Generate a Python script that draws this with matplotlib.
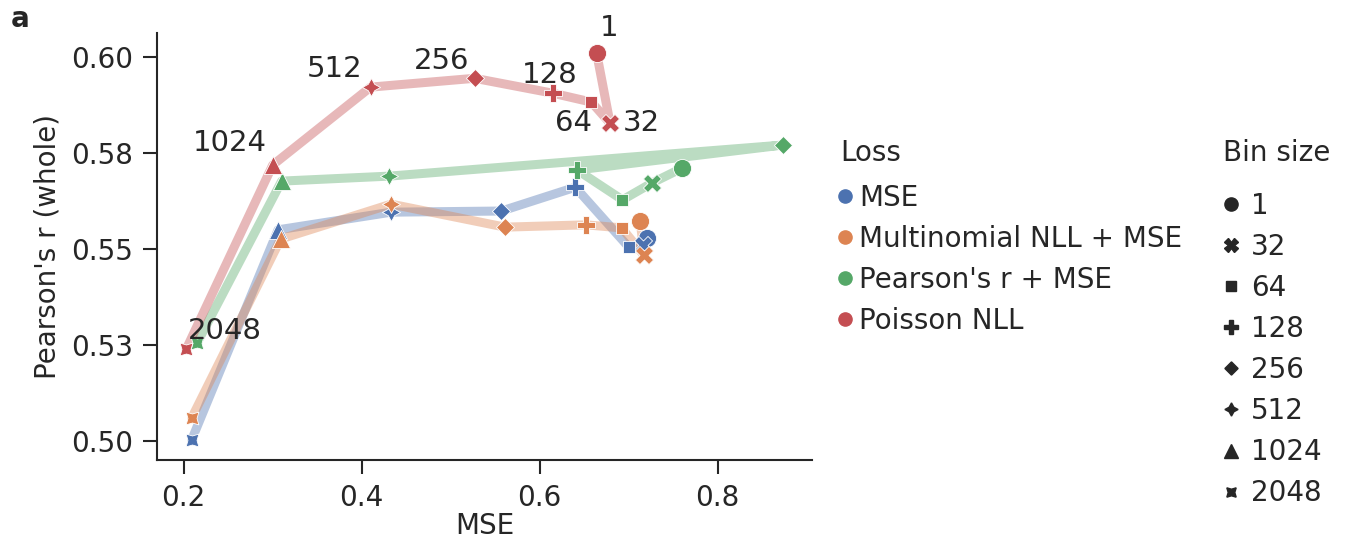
import matplotlib.pyplot as plt
from matplotlib.lines import Line2D

# Data (order of bin sizes: 1, 32, 64, 128, 256, 512, 1024, 2048)
bin_sizes = [1, 32, 64, 128, 256, 512, 1024, 2048]
losses = ["MSE", "Multinomial NLL + MSE", "Pearson's r + MSE", "Poisson NLL"]

mse_mse = [0.720, 0.716, 0.700, 0.640, 0.557, 0.433, 0.306, 0.209]
r_mse = [0.5529, 0.5510, 0.5505, 0.5661, 0.5599, 0.5596, 0.5550, 0.5003]

mse_multi = [0.713, 0.717, 0.692, 0.652, 0.561, 0.433, 0.309, 0.209]
r_multi = [0.5573, 0.5484, 0.5555, 0.5563, 0.5557, 0.5617, 0.5526, 0.5060]

mse_pear = [0.760, 0.726, 0.693, 0.642, 0.873, 0.431, 0.310, 0.215]
r_pear = [0.5711, 0.5672, 0.5628, 0.5706, 0.5771, 0.5690, 0.5677, 0.5255]

mse_pois = [0.664, 0.679, 0.658, 0.615, 0.527, 0.410, 0.300, 0.203]
r_pois = [0.6010, 0.5828, 0.5883, 0.5906, 0.5945, 0.5922, 0.5719, 0.5240]

yticks = [0.500, 0.525, 0.550, 0.575, 0.600]
yticklabels = ["0.50", "0.53", "0.55", "0.58", "0.60"]
xticks = [0.2, 0.4, 0.6, 0.8]

colors = ["#4C72B0", "#DD8452", "#55A868", "#C44E52"]
markers = ["o", "X", (4, 0, 45), "P", (4, 0, 0), (4, 1, 0), "^", (4, 1, 45)]
# label offsets (pixels) and alignment for the Poisson NLL annotations
label_pos = [((3, 11), "left", "bottom"), ((13, 0), "left", "center"),
             ((1, -21), "right", "center"), ((-3, 4), "center", "bottom"),
             ((-5, 3), "right", "bottom"), ((-8, 4), "right", "bottom"),
             ((-6, 8), "right", "bottom"), ((1, 4), "left", "bottom")]

txt = "#262626"
plt.rcParams["font.family"] = "DejaVu Sans"
plt.rcParams["text.color"] = txt
plt.rcParams["axes.labelcolor"] = txt
plt.rcParams["xtick.color"] = txt
plt.rcParams["ytick.color"] = txt

fig = plt.figure(figsize=(13.55, 5.37), dpi=100)
ax = fig.add_axes([0.1159, 0.1434, 0.4834, 0.7951])

series = [(mse_mse, r_mse), (mse_multi, r_multi), (mse_pear, r_pear), (mse_pois, r_pois)]
for k, (xs, ys) in enumerate(series):
    ax.plot(xs, ys, color=colors[k], lw=6.5, alpha=0.4, solid_capstyle="round", zorder=2)
    for i in range(len(xs)):
        ax.scatter(xs[i], ys[i], marker=markers[i], s=170, color=colors[k],
                   edgecolor="white", linewidth=0.6, zorder=3)

for i, b in enumerate(bin_sizes):
    off, ha, va = label_pos[i]
    ax.annotate(str(b), (mse_pois[i], r_pois[i]), xytext=off, textcoords="offset pixels",
                ha=ha, va=va, fontsize=21, color=txt, zorder=4)

ax.set_xlim(0.170, 0.906)
ax.set_ylim(0.495, 0.6063)
ax.set_xticks(xticks)
ax.set_xticklabels([f"{t:.1f}" for t in xticks])
ax.set_yticks(yticks)
ax.set_yticklabels(yticklabels)
ax.tick_params(labelsize=20, length=10, width=1.5, pad=7)
for s in ["top", "right"]:
    ax.spines[s].set_visible(False)
for s in ["left", "bottom"]:
    ax.spines[s].set_linewidth(1.5)
    ax.spines[s].set_color(txt)
ax.set_xlabel("MSE", fontsize=20, labelpad=0)
ax.set_ylabel("Pearson's r (whole)", fontsize=20, labelpad=7)

# Loss legend
loss_handles = [Line2D([], [], marker="o", ls="", color=c, markersize=9.5) for c in colors]
leg1 = fig.legend(loss_handles, losses, title="Loss", loc="upper left",
                  bbox_to_anchor=(0.612, 0.762), frameon=False, fontsize=20,
                  title_fontsize=20, handlelength=0.35, handletextpad=0.32,
                  labelspacing=0.47, alignment="left", borderaxespad=0)
leg1._legend_box.sep = 12

# Bin size legend
bin_handles = [Line2D([], [], marker=m, ls="", color="#262626", markersize=9.5) for m in markers]
leg2 = fig.legend(bin_handles, [str(b) for b in bin_sizes], title="Bin size", loc="upper left",
                  bbox_to_anchor=(0.8945, 0.762), frameon=False, fontsize=20,
                  title_fontsize=20, handlelength=0.6, handletextpad=0.4,
                  labelspacing=0.47, alignment="left", borderaxespad=0)
leg2._legend_box.sep = 18

fig.text(0.008, 0.965, "a", fontsize=20, fontweight="bold", va="center", ha="left")

fig.savefig("out.png", dpi=100)
